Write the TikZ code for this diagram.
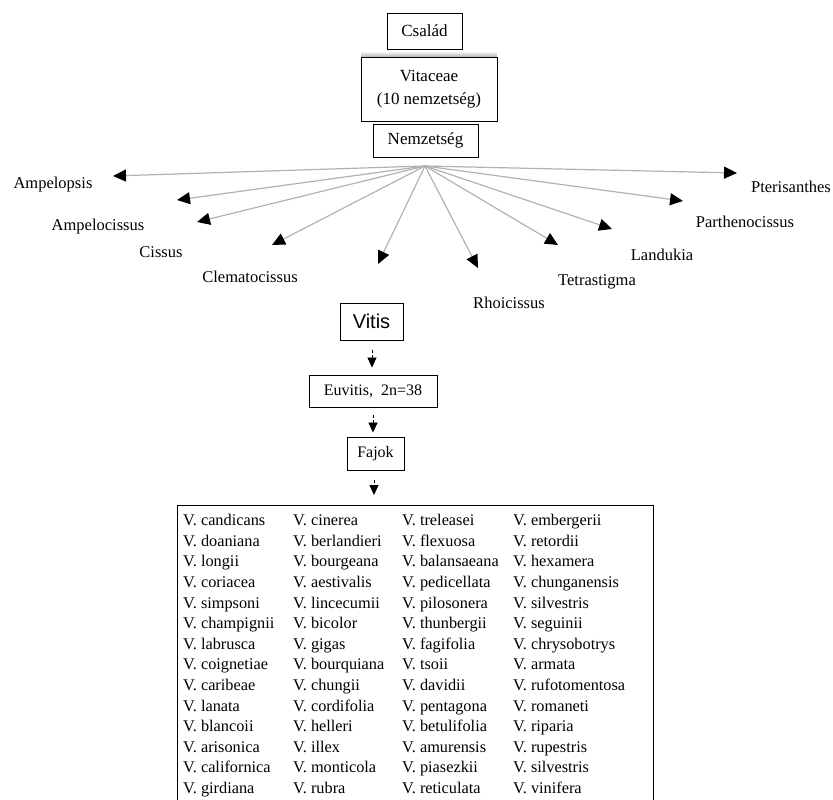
\documentclass[tikz,border=0pt]{standalone}
\usepackage{fontspec}
\setmainfont{Liberation Serif}
\newfontfamily\arialf{Liberation Sans}
\usetikzlibrary{arrows.meta}
\begin{document}
\begin{tikzpicture}[x=1pt,y=-1pt,
  box/.style={draw, line width=0.9pt, inner sep=0pt, font=\fontsize{17}{20}\selectfont},
  sbox/.style={draw, line width=0.9pt, inner sep=0pt, font=\fontsize{16}{19}\selectfont},
  lbl/.style={font=\fontsize{16.5}{20}\selectfont, inner sep=0pt},
  ray/.style={draw=gray!60, line width=1.2pt, -{Triangle[length=13pt,width=12pt,color=black]}},
  down/.style={dash pattern=on 3pt off 2pt, line width=0.8pt, -{Triangle[length=10pt,width=9pt]}}]
\useasboundingbox (0,0) rectangle (833,800);

\shade[top color=white, bottom color=gray!55] (361,51) rectangle (497,56.5);
\node[box, minimum width=75, minimum height=36, fill=white] (csalad) at (424.5,31) {Család};
\node[box, minimum width=136, minimum height=64, align=center] (vitaceae) at (429,89) {Vitaceae\\[3pt](10 nemzetség)};
\node[box, minimum width=105, minimum height=33, fill=white] (nemz) at (425.5,140.5) {Nemzetség};

\coordinate (o) at (425,166);
\coordinate (t1) at (113,176);
\coordinate (t2) at (177,200);
\coordinate (t3) at (197,222);
\coordinate (t4) at (272,245);
\coordinate (t5) at (378,264);
\coordinate (t6) at (478,268);
\coordinate (t7) at (558,245);
\coordinate (t8) at (612,229);
\coordinate (t9) at (683,201);
\coordinate (t10) at (737,173);
\foreach \i in {1,...,10} {\draw[ray] (o) -- (t\i);}

\node[lbl] (ampelopsis) at (53,185) {Ampelopsis};
\node[lbl] (ampelocissus) at (98,227) {Ampelocissus};
\node[lbl] (cissus) at (161,252) {Cissus};
\node[lbl] (clemato) at (250,277) {Clematocissus};
\node[lbl] (rhoi) at (509,303) {Rhoicissus};
\node[lbl] (tetra) at (597,282) {Tetrastigma};
\node[lbl] (landukia) at (662,255) {Landukia};
\node[lbl] (partheno) at (745,222) {Parthenocissus};
\node[lbl] (pteri) at (791,187) {Pterisanthes};

\node[draw, line width=0.9pt, inner sep=0pt, minimum width=63, minimum height=37, font=\arialf\fontsize{20}{24}\selectfont] (vitis) at (371.5,321.5) {Vitis};
\node[sbox, minimum width=128, minimum height=32] (euvitis) at (373,391) {Euvitis,\ \ 2n=38};
\node[sbox, minimum width=57, minimum height=33] (fajok) at (375.5,453.5) {Fajok};

\node[anchor=north west, inner sep=0pt, font=\fontsize{16.3}{20.6}\selectfont] (tab) at (183,511) {%
\begin{tabular}{@{}p{110pt}@{}p{109pt}@{}p{111pt}@{}l@{}}
V. candicans & V. cinerea & V. treleasei & V. embergerii\\
V. doaniana & V. berlandieri & V. flexuosa & V. retordii\\
V. longii & V. bourgeana & V. balansaeana & V. hexamera\\
V. coriacea & V. aestivalis & V. pedicellata & V. chunganensis\\
V. simpsoni & V. lincecumii & V. pilosonera & V. silvestris\\
V. champignii & V. bicolor & V. thunbergii & V. seguinii\\
V. labrusca & V. gigas & V. fagifolia & V. chrysobotrys\\
V. coignetiae & V. bourquiana & V. tsoii & V. armata\\
V. caribeae & V. chungii & V. davidii & V. rufotomentosa\\
V. lanata & V. cordifolia & V. pentagona & V. romaneti\\
V. blancoii & V. helleri & V. betulifolia & V. riparia\\
V. arisonica & V. illex & V. amurensis & V. rupestris\\
V. californica & V. monticola & V. piasezkii & V. silvestris\\
V. girdiana & V. rubra & V. reticulata & V. vinifera
\end{tabular}};
\coordinate (tl) at (177,505);
\coordinate (tr) at (653,505);
\draw[line width=0.9pt] (tl |- 0,800) -- (tl) -- (tr) -- (tr |- 0,800);

\draw[down, shorten <=10pt, shorten >=7pt] (vitis.south -| 372,0) -- (euvitis.north -| 372,0);
\draw[down, shorten <=8pt, shorten >=4pt] (euvitis.south -| 373,0) -- (fajok.north -| 373,0);
\draw[down, shorten <=10pt, shorten >=10pt] (fajok.south -| 374,0) -- (tl -| 374,0);
\end{tikzpicture}
\end{document}
